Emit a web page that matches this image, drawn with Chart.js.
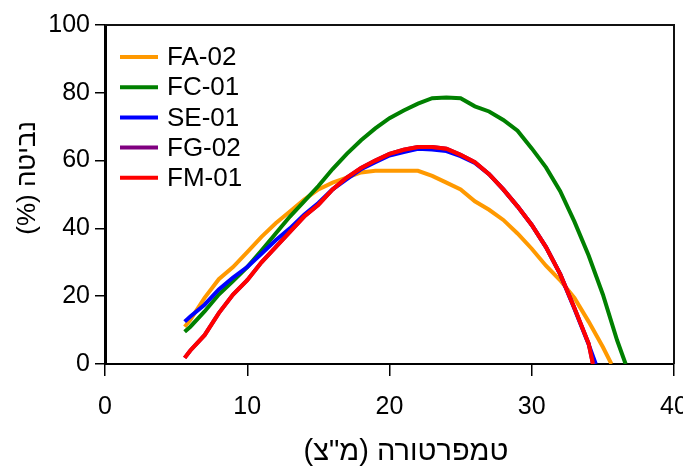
<!DOCTYPE html>
<html>
<head>
<meta charset="utf-8">
<script src="https://cdn.jsdelivr.net/npm/chart.js@4.4.1/dist/chart.umd.min.js"></script>
<style>
  html, body { margin: 0; padding: 0; background: #fff; }
  .chart-div { width: 683px; height: 469px; }
</style>
</head>
<body>
<div class="chart-div"><canvas id="myChart"></canvas></div>
<script>
// germination (%) against temperature
const faTemp = [5.6, 6, 7, 8, 9, 10, 11, 12, 13, 14, 15, 16, 17, 18, 19, 20, 21, 22, 23, 24, 25, 26, 27, 28, 29, 30, 31, 32, 33, 34, 35, 35.6];
const faRate = [11, 13, 19.5, 25, 28.6, 33, 37.5, 41.5, 45, 48.5, 51.5, 53.5, 55, 56.5, 57, 57, 57, 57, 55.5, 53.5, 51.5, 48, 45.5, 42.5, 38.5, 34, 29, 24.7, 19.5, 12.5, 5, 0];

const fcTemp = [5.6, 6, 7, 8, 9, 10, 11, 12, 13, 14, 15, 16, 17, 18, 19, 20, 21, 22, 23, 24, 25, 26, 27, 28, 29, 30, 31, 32, 33, 34, 35, 36, 36.6];
const fcRate = [9.5, 11, 15.5, 20.5, 24.5, 28.6, 33.5, 38.5, 43.5, 48, 52.5, 57.5, 62, 66, 69.5, 72.5, 74.8, 76.8, 78.4, 78.6, 78.4, 76, 74.5, 72, 68.8, 63.6, 58, 51, 42, 32, 20.5, 7, 0];

const seTemp = [5.6, 6, 7, 8, 9, 10, 11, 12, 13, 14, 15, 16, 17, 18, 19, 20, 21, 22, 23, 24, 25, 26, 27, 28, 29, 30, 31, 32, 33, 34, 34.5];
const seRate = [12.5, 14, 17.5, 22, 25.5, 28.6, 32.5, 36.5, 40, 44, 47.5, 51.5, 54.5, 57.5, 59.5, 61.5, 62.5, 63.5, 63.3, 62.8, 61.3, 59.3, 56, 51.5, 46.5, 41, 34.5, 26.5, 16.3, 5.8, 0];

const fgTemp = [5.6, 6, 7, 8, 9, 10, 11, 12, 13, 14, 15, 16, 17, 18, 19, 20, 21, 22, 23, 24, 25, 26, 27, 28, 29, 30, 31, 32, 33, 34, 34.3];
const fgRate = [1.8, 4, 8.5, 15, 20.5, 24.7, 30, 34.5, 39, 43.5, 47, 51.5, 55, 57.8, 60, 62, 63.2, 64, 64, 63.5, 61.7, 59.5, 56, 51.5, 46.5, 41, 34.5, 26.5, 16.5, 6, 0];

const fmTemp = [5.6, 6, 7, 8, 9, 10, 11, 12, 13, 14, 15, 16, 17, 18, 19, 20, 21, 22, 23, 24, 25, 26, 27, 28, 29, 30, 31, 32, 33, 34, 34.3];
const fmRate = [1.8, 4, 8.5, 15, 20.5, 24.7, 30, 34.5, 39, 43.5, 47, 51.5, 55, 57.8, 60, 62, 63.2, 64, 64, 63.5, 61.7, 59.5, 56, 51.5, 46.5, 41, 34.5, 26.5, 16.5, 6, 0];

const seriesNames = ["FA-02", "FC-01", "SE-01", "FG-02", "FM-01"];
const seriesColors = ["#FF9900", "#008000", "#0000FF", "#800080", "#FF0000"];

const xTicks = [0, 10, 20, 30, 40];
const yTicks = [0, 20, 40, 60, 80, 100];

// RLM on both ends so the brackets stay on the right side of the hebrew
const xTitle = "\u200Fטמפרטורה (מ\"צ)\u200F";
const yTitle = "\u200Fנביטה (%)\u200F";

const FONT = "'Liberation Sans', Arial, 'DejaVu Sans', sans-serif";

function toPoints(temps, rates) {
  return temps.map((t, i) => ({ x: t, y: rates[i] }));
}

const allTemps = [faTemp, fcTemp, seTemp, fgTemp, fmTemp];
const allRates = [faRate, fcRate, seRate, fgRate, fmRate];

const datasets = seriesNames.map((name, i) => ({
  label: name,
  data: toPoints(allTemps[i], allRates[i]),
  borderColor: seriesColors[i],
  backgroundColor: seriesColors[i],
  borderWidth: 4,
  pointRadius: 0,
  tension: 0,
  fill: false,
  order: seriesNames.length - 1 - i, // later series on top
}));

// frame, legend and axis titles
const extras = {
  id: "extras",
  afterDraw(chart) {
    const c = chart.ctx;
    const area = chart.chartArea;
    c.save();

    c.strokeStyle = "#111";
    c.lineWidth = 2;
    c.beginPath();
    c.moveTo(area.left, area.top);
    c.lineTo(area.right, area.top);
    c.lineTo(area.right, area.bottom);
    c.stroke();

    c.font = "26px " + FONT;
    c.textBaseline = "middle";
    c.textAlign = "left";
    chart.data.datasets.forEach((ds, i) => {
      const y = 57 + i * 30.2;
      c.strokeStyle = ds.borderColor;
      c.lineWidth = 4;
      c.beginPath();
      c.moveTo(120, y);
      c.lineTo(158, y);
      c.stroke();
      c.fillStyle = "#000";
      c.fillText(ds.label, 167, y + 1);
    });

    c.fillStyle = "#000";
    c.textAlign = "center";
    c.font = "29px " + FONT;
    c.fillText(xTitle, 406, 452);

    c.font = "26px " + FONT;
    c.translate(28, 178);
    c.rotate(-Math.PI / 2);
    c.fillText(yTitle, 0, 0);
    c.restore();
  },
};

const ctx = document.getElementById("myChart");

const myChart = new Chart(ctx, {
  type: "line",
  data: { datasets: datasets },
  options: {
    responsive: true,
    maintainAspectRatio: false,
    animation: false,
    layout: { padding: { top: 25, right: 9, left: 0, bottom: 0 } },
    plugins: {
      legend: { display: false },
      tooltip: { enabled: false },
    },
    scales: {
      x: {
        type: "linear",
        min: 0,
        max: 40,
        afterBuildTicks: (scale) => {
          scale.ticks = xTicks.map((v) => ({ value: v }));
        },
        afterFit: (scale) => {
          scale.height = 105;
          scale.paddingLeft = 0;
          scale.paddingRight = 0;
        },
        grid: {
          drawOnChartArea: false,
          drawTicks: true,
          tickLength: 12,
          tickColor: "#000",
          lineWidth: 1.5,
        },
        border: { display: true, color: "#000", width: 2 },
        ticks: {
          color: "#000",
          padding: 16,
          maxRotation: 0,
          font: { family: FONT, size: 25 },
        },
      },
      y: {
        type: "linear",
        min: 0,
        max: 100,
        afterBuildTicks: (scale) => {
          scale.ticks = yTicks.map((v) => ({ value: v }));
        },
        afterFit: (scale) => {
          scale.width = 105;
          scale.paddingTop = 0;
          scale.paddingBottom = 0;
        },
        grid: {
          drawOnChartArea: false,
          drawTicks: true,
          tickLength: 10,
          tickColor: "#000",
          lineWidth: 1.5,
        },
        border: { display: true, color: "#000", width: 3 },
        ticks: {
          color: "#000",
          padding: 5,
          font: { family: FONT, size: 25 },
        },
      },
    },
  },
  plugins: [extras],
});
</script>
</body>
</html>
